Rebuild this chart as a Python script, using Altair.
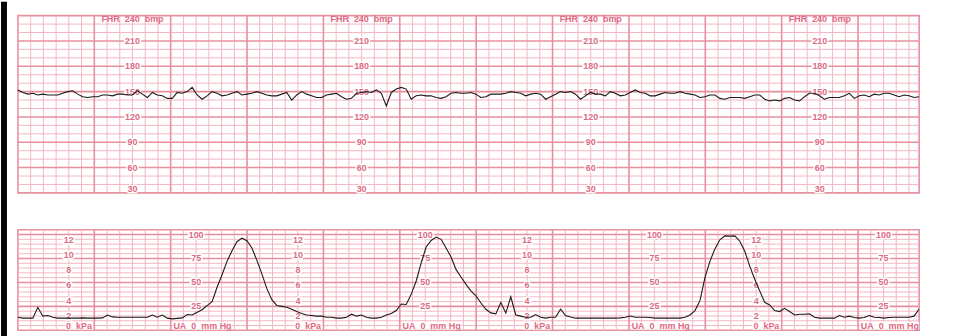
import altair as alt
import pandas as pd

# ---------------- data (samples every ~3.9 s) ----------------
FHR_BPM = [
    152, 149, 147, 148, 146, 147, 146, 146, 146, 148, 150, 151, 147, 144, 143, 144, 144, 146, 146, 145,
    147, 147, 146, 146, 151, 147, 143, 149, 146, 145, 142, 142, 149, 148, 150, 155, 146, 141, 145, 150,
    148, 145, 146, 148, 150, 146,
    147, 148, 150, 148, 146, 145, 145, 147, 149, 140, 146, 150, 147, 145, 143, 143, 146, 147, 148, 144,
    141, 142, 148, 149, 150, 149, 152, 148, 133, 149, 153, 155, 153, 141, 145, 146, 145, 145, 143, 142,
    144, 148, 149, 148, 148, 149,
    147, 143, 144, 147, 147, 147, 148, 150, 149, 148, 145, 147, 148, 147, 141, 144, 147, 150, 149, 150,
    147, 141, 145, 149, 147, 147, 145, 150, 148, 145, 146, 149, 152, 149, 148, 145, 145, 147, 149, 148,
    148, 150, 148, 147, 146, 143,
    144, 146, 146, 142, 141, 143, 143, 143, 142, 144, 146, 146, 141, 139, 140, 139, 142, 143, 140, 139,
    144, 148, 148, 145, 141, 143, 143, 143, 145, 148, 142, 145, 146, 144, 147, 146, 148, 148, 146, 144,
    146, 145, 143, 144,
]

UA_MMHG = [
    13.7, 12.7, 12.7, 12.7, 24.0, 14.8, 15.5, 13.7, 12.7, 12.7,
    12.7, 12.7, 12.7, 13.0, 12.7, 12.7, 12.7, 13.0, 16.0, 14.0,
    13.7, 13.7, 13.7, 13.7, 13.7, 13.7, 13.7, 16.0, 13.7, 16.0,
    12.7, 12.0, 12.5, 13.0, 16.5, 16.0, 18.9, 21.5, 25.8, 30.0,
    45.0, 58.0, 72.0, 83.0, 92.5, 96.2, 93.5, 86.0, 73.0, 59.0,
    43.5, 32.0, 26.0, 25.0, 24.0, 22.0, 19.6, 17.5, 16.0, 15.5,
    14.8, 14.8, 13.7, 13.7, 12.7, 12.7, 13.7, 16.8, 14.8, 16.0,
    13.7, 12.7, 12.7, 13.7, 16.0, 17.5, 20.6, 27.5, 27.0, 37.8,
    51.5, 70.4, 87.0, 93.8, 97.3, 95.0, 86.0, 76.6, 63.6, 55.7,
    48.0, 41.2, 36.0, 28.5, 22.0, 18.2, 17.2, 29.0, 18.0, 35.0,
    16.0, 14.8, 13.7, 13.7, 16.5, 13.7, 12.7, 13.7, 13.7, 22.0,
    15.5, 14.0, 12.7, 12.7, 12.7, 12.7, 12.7, 12.7, 12.7, 12.7,
    12.7, 13.0, 13.7, 15.0,
    13.7, 13.7, 13.7, 13.4, 12.7, 12.7, 12.7, 12.7, 12.7, 12.7,
    13.7, 16.0, 20.6, 31.0, 55.0, 72.0, 85.0, 94.5, 98.6, 98.3,
    98.6, 93.0, 82.5, 67.0, 53.3, 41.2, 29.2, 26.5, 20.6, 19.6,
    23.0, 19.6, 16.0, 16.8, 16.8, 17.2, 13.7, 12.7, 12.7, 12.7,
    12.7, 15.5, 13.7, 14.8, 13.4, 12.7, 13.4, 15.5, 13.7, 13.4,
    12.7, 13.4, 13.7, 13.7, 13.7, 13.7, 14.8, 22.0,
]

SAMPLE_STEP_S = 3.911          # seconds between samples
T_END = 708                    # seconds shown on the strip

FHR_TICKS = [210, 180, 150, 120, 90, 60]
UA_TICKS = [100, 75, 50, 25]
KPA_TICKS = [12, 10, 8, 6, 4, 2]

FHR_COLS = [90, 270, 450, 630]     # seconds where the FHR scale is printed
UA_COLS = [140, 320, 500, 680]     # seconds where the mmHg scale is printed
KPA_COLS = [40, 220, 400, 580]     # seconds where the kPa scale is printed

SP = "\u00a0\u00a0"
FHR_TITLE = "FHR" + SP + "240" + SP + "bmp"
UA_TITLE = "UA" + SP + "0" + SP + "mm Hg"
KPA_TITLE = "0" + SP + "kPa"

# ---------------- styling ----------------
THIN = "#f4b6c3"
THICK = "#e8909f"
LABEL = "#de6a84"
TRACE = "#1b1b1b"
FONT = "Liberation Sans"
W = 905
H_FHR = 178
H_UA = 101
GAP = 37

xs = alt.Scale(domain=[0, T_END], nice=False, zero=False)
ys_fhr = alt.Scale(domain=[30, 240], nice=False, zero=False)
ys_ua = alt.Scale(domain=[0, 105], nice=False, zero=False)

t = [round(i * SAMPLE_STEP_S, 2) for i in range(len(FHR_BPM))]
fhr_df = pd.DataFrame({"t": t, "v": FHR_BPM})
ua_df = pd.DataFrame({"t": t, "v": UA_MMHG})

minor_v = pd.DataFrame({"t": [s for s in range(10, T_END, 10) if s % 60]})
major_v = pd.DataFrame({"t": list(range(60, T_END, 60))})


def grid(ys, minor_vals, major_vals):
    X = alt.X("t:Q", scale=xs, axis=None)
    lay = [
        alt.Chart(minor_v).mark_rule(color=THIN, strokeWidth=1).encode(x=X),
        alt.Chart(pd.DataFrame({"v": minor_vals})).mark_rule(color=THIN, strokeWidth=1).encode(
            y=alt.Y("v:Q", scale=ys, axis=None)),
        alt.Chart(major_v).mark_rule(color=THICK, strokeWidth=1.6).encode(x=X),
        alt.Chart(pd.DataFrame({"v": major_vals})).mark_rule(color=THICK, strokeWidth=1.6).encode(
            y=alt.Y("v:Q", scale=ys, axis=None)),
    ]
    return lay


def labels(df, ys, size=9, halo=True):
    enc = dict(x=alt.X("t:Q", scale=xs, axis=None), y=alt.Y("y:Q", scale=ys, axis=None), text="s:N")
    txt = alt.Chart(df).mark_text(font=FONT, fontSize=size, fontWeight="bold", color=LABEL,
                                  align="center", baseline="middle").encode(**enc)
    if not halo:
        return [txt]
    h = alt.Chart(df).mark_text(font=FONT, fontSize=size, fontWeight="bold", color="white",
                                stroke="white", strokeWidth=3, align="center",
                                baseline="middle").encode(**enc)
    return [h, txt]


def boxes(df, ys):
    return alt.Chart(df).mark_rect(color="white").encode(
        x=alt.X("t0:Q", scale=xs, axis=None), x2="t1:Q",
        y=alt.Y("y0:Q", scale=ys, axis=None), y2="y1:Q")


# FHR labels
rows, titles = [], []
for c in FHR_COLS:
    for v in FHR_TICKS:
        rows.append({"t": c, "y": v, "s": str(v)})
    rows.append({"t": c, "y": 34.7, "s": "30"})
    titles.append({"t": c, "y": 236.0, "s": FHR_TITLE})
fhr_lab = pd.DataFrame(rows)
fhr_title = pd.DataFrame(titles)

# UA labels
rows, titles, bx = [], [], []
for c in UA_COLS:
    for v in UA_TICKS:
        rows.append({"t": c, "y": v, "s": str(v)})
    titles.append({"t": c + 5, "y": 4.5, "s": UA_TITLE})
    bx.append({"t0": c + 5 - 23, "t1": c + 5 + 23, "y0": 0.8, "y1": 8.6})
for c in KPA_COLS:
    for k in KPA_TICKS:
        rows.append({"t": c, "y": 7.9 * k - 0.5, "s": str(k)})
    titles.append({"t": c + 8, "y": 4.5, "s": KPA_TITLE})
    bx.append({"t0": c + 8 - 11, "t1": c + 8 + 11, "y0": 0.8, "y1": 8.6})
ua_lab = pd.DataFrame(rows)
ua_title = pd.DataFrame(titles)
ua_box = pd.DataFrame(bx)

fhr_line = alt.Chart(fhr_df).mark_line(color=TRACE, strokeWidth=1.1, interpolate="linear").encode(
    x=alt.X("t:Q", scale=xs, axis=None), y=alt.Y("v:Q", scale=ys_fhr, axis=None))
ua_line = alt.Chart(ua_df).mark_line(color=TRACE, strokeWidth=1.1, interpolate="linear").encode(
    x=alt.X("t:Q", scale=xs, axis=None), y=alt.Y("v:Q", scale=ys_ua, axis=None))

# dark scanner edge on the far left of the strip (decoration, in the padding)
edge = alt.Chart(pd.DataFrame({"a": [0]})).mark_rect(color="#050505").encode(
    x=alt.value(-17), x2=alt.value(-11), y=alt.value(-14), y2=alt.value(H_FHR + GAP + H_UA + 6))

top = alt.layer(
    edge,
    *grid(ys_fhr, [v for v in range(40, 240, 10) if v % 30], list(range(60, 240, 30))),
    *labels(fhr_lab, ys_fhr),
    *labels(fhr_title, ys_fhr, halo=False),
    fhr_line,
).properties(width=W, height=H_FHR)

bottom = alt.layer(
    *grid(ys_ua, [v for v in range(5, 105, 5) if v % 25], [25, 50, 75, 100]),
    boxes(ua_box, ys_ua),
    *labels(ua_lab, ys_ua),
    *labels(ua_title, ys_ua, halo=False),
    ua_line,
).properties(width=W, height=H_UA)

chart = alt.vconcat(top, bottom, spacing=GAP, bounds="flush").properties(
    padding={"left": 0, "top": 0, "right": 32, "bottom": 0},
    background="white",
).configure_view(stroke=THICK, strokeWidth=1.6)

chart.save("out.html", embed_options={"renderer": "svg", "actions": False})
